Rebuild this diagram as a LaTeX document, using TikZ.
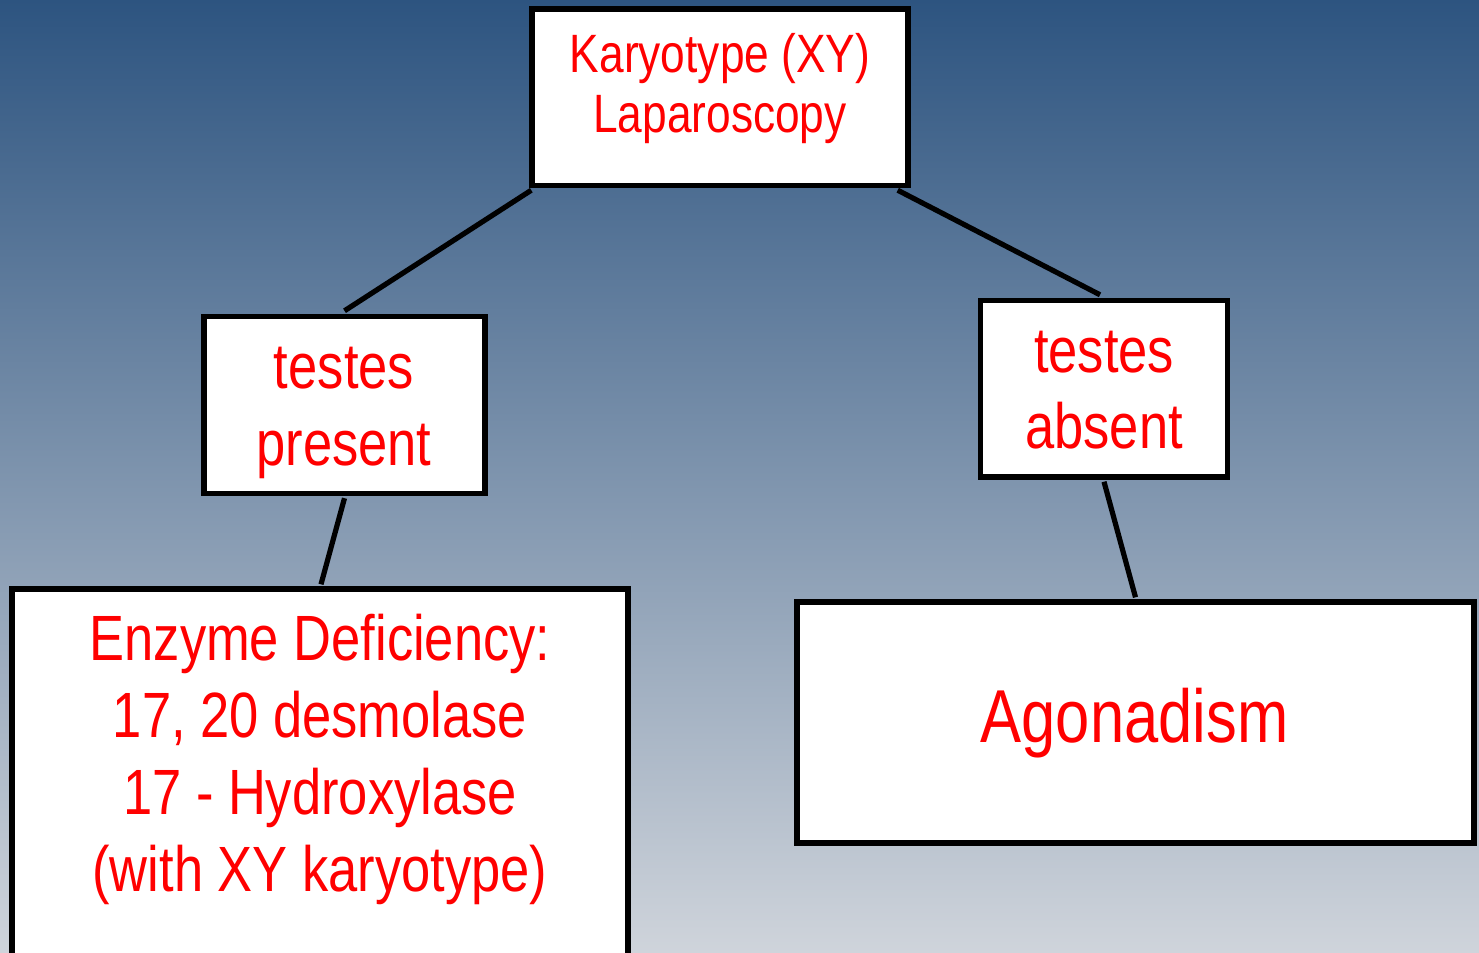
\documentclass[tikz,border=0pt]{standalone}
\usepackage{fontspec}
\newfontfamily\narrowsans[FakeStretch=0.82]{Liberation Sans}
\usetikzlibrary{calc}
\definecolor{bgtop}{RGB}{45,84,128}
\definecolor{bgbottom}{RGB}{207,212,219}
\definecolor{labelred}{RGB}{255,0,0}
\tikzset{
  box/.style={draw=black, fill=white, line width=2.7pt, inner sep=0pt},
  link/.style={draw=black, line width=2.6pt},
  label/.style={inner sep=0pt, align=center, text=labelred, anchor=base},
}
\begin{document}
\begin{tikzpicture}[x=0.5pt, y=-0.5pt]
  % canvas with vertical gradient
  \useasboundingbox (0,0) rectangle (1479,953);
  \clip (0,0) rectangle (1479,953);
  \shade[top color=bgtop, bottom color=bgbottom] (0,0) rectangle (1479,953);

  % boxes
  \node[box, minimum width=188pt, minimum height=88.25pt] (top) at (720,97.25) {};
  \node[box, minimum width=140.5pt, minimum height=88.5pt] (present) at (344.5,405) {};
  \node[box, minimum width=123.5pt, minimum height=88.25pt] (absent) at (1104,388.75) {};
  \node[box, minimum width=308pt, minimum height=200pt] (enzyme) at (320,789) {};
  \node[box, minimum width=338.5pt, minimum height=120.5pt] (agon) at (1135.5,722.5) {};

  % connectors between the boxes
  \coordinate (topL) at ($(top.south west)+(2,2)$);
  \coordinate (topR) at ($(top.south east)+(-13,2)$);
  \draw[link] (topL) -- ($(present.north)+(0,-3)$);
  \draw[link] (topR) -- ($(absent.north)+(-4,-3)$);
  \draw[link] ($(present.south)+(0,2)$) -- ($(enzyme.north)+(1,-2)$);
  \draw[link] ($(absent.south)+(0,2)$) -- ($(agon.north)+(0,-2)$);

  % labels, placed by the baseline of their last line
  \node[label, font=\narrowsans\fontsize{27pt}{30pt}\selectfont] (topText) at (720,132)
    {Karyotype (XY)\\Laparoscopy};
  \node[label, font=\narrowsans\fontsize{32pt}{38.5pt}\selectfont] (presentText) at (344,465)
    {testes\\present};
  \node[label, font=\narrowsans\fontsize{32pt}{38pt}\selectfont] (absentText) at (1104,448)
    {testes\\absent};
  \node[label, font=\narrowsans\fontsize{32pt}{38.5pt}\selectfont] (enzymeText) at (320,891)
    {Enzyme Deficiency:\\17, 20 desmolase\\17 - Hydroxylase\\(with XY karyotype)};
  \node[label, font=\narrowsans\fontsize{37.5pt}{45pt}\selectfont] (agonText) at (1134.5,742)
    {Agonadism};
\end{tikzpicture}
\end{document}
